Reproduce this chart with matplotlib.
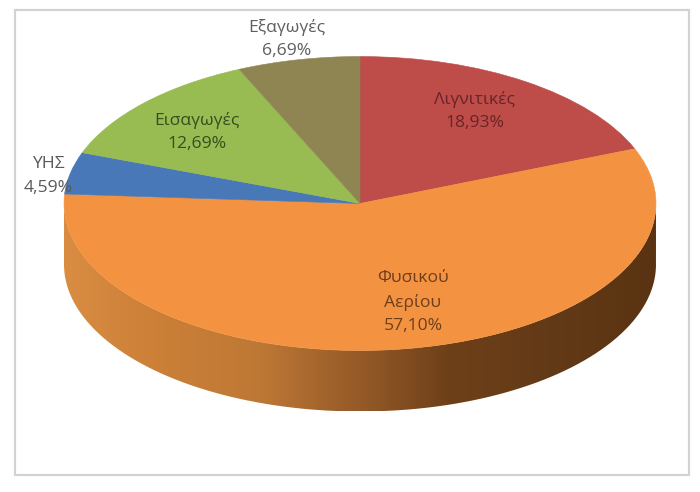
import numpy as np
import matplotlib
matplotlib.use("Agg")
import matplotlib.pyplot as plt
from matplotlib.colors import LinearSegmentedColormap
from matplotlib.patches import PathPatch, Rectangle
from matplotlib.path import Path

plt.rcParams['font.family'] = ['Open Sans', 'DejaVu Sans']

# Data
names = ['Λιγνιτικές', 'Φυσικού\nΑερίου', 'ΥΗΣ', 'Εισαγωγές', 'Εξαγωγές']
shares = [18.93, 57.10, 4.59, 12.69, 6.69]
slice_colors = ['#BE4D4A', '#F39341', '#4878B8', '#98BB52', '#8F8552']
text_colors = ['#6A2326', '#6E3E1C', '#595959', '#34501F', '#5E5E5E']
# label centres in pixels
label_x = [475, 413, 48, 197, 287]
label_y = [111, 302, 176, 132, 39]

W, H = 700, 492
cx, cy, rx, ry = 360, 203.5, 296, 147
depth = 61

fig = plt.figure(figsize=(W / 100, H / 100), dpi=100)

# background layer in pixel coords: frame and pie side
bg = fig.add_axes([0, 0, 1, 1], zorder=1)
bg.set_xlim(0, W)
bg.set_ylim(H, 0)
bg.axis('off')

bg.add_patch(Rectangle((14.5, 9.5), 674, 465, fill=False, edgecolor='#D2D2D2', linewidth=1.6))

# side of the pie with left-to-right shading
side_cmap = LinearSegmentedColormap.from_list('side', [
    (0.0, '#D98C42'), (0.15, '#CC8038'), (0.33, '#BE7835'), (0.45, '#A0622C'),
    (0.53, '#8E5525'), (0.65, '#6E4019'), (0.85, '#613916'), (1.0, '#5A3312')])
t = np.linspace(np.pi, 0, 200)
xs = cx + rx * np.cos(t)
ys = cy + ry * np.sin(t)
verts = np.r_[np.c_[xs, ys], np.c_[xs[::-1], ys[::-1] + depth], [[xs[0], ys[0]]]]
side_path = Path(verts)
img = bg.imshow(np.linspace(0, 1, 400).reshape(1, -1), cmap=side_cmap, aspect='auto',
                extent=(cx - rx, cx + rx, cy + ry + depth, cy), zorder=2)
bg.set_xlim(0, W)
bg.set_ylim(H, 0)
clip = PathPatch(side_path, transform=bg.transData, facecolor='none', edgecolor='none')
bg.add_patch(clip)
img.set_clip_path(clip)

# top of the pie: a unit pie stretched into an ellipse by the axes box
ax = fig.add_axes([(cx - rx) / W, 1 - (cy + ry) / H, 2 * rx / W, 2 * ry / H], zorder=2)
wedges, _ = ax.pie(shares, colors=slice_colors, startangle=90, counterclock=False, radius=1)
for wedge, col in zip(wedges, slice_colors):
    wedge.set_edgecolor(col)
    wedge.set_linewidth(0.4)
ax.set_aspect('auto')
ax.set_xlim(-1, 1)
ax.set_ylim(-1, 1)

# labels
for name, share, col, lx, ly in zip(names, shares, text_colors, label_x, label_y):
    value = f'{share:.2f}'.replace('.', ',') + '%'
    fig.text(lx / W, 1 - ly / H, name + '\n' + value, color=col, fontsize=12.6,
             ha='center', va='center', linespacing=1.6, zorder=5)

fig.savefig('out.png', dpi=100)
